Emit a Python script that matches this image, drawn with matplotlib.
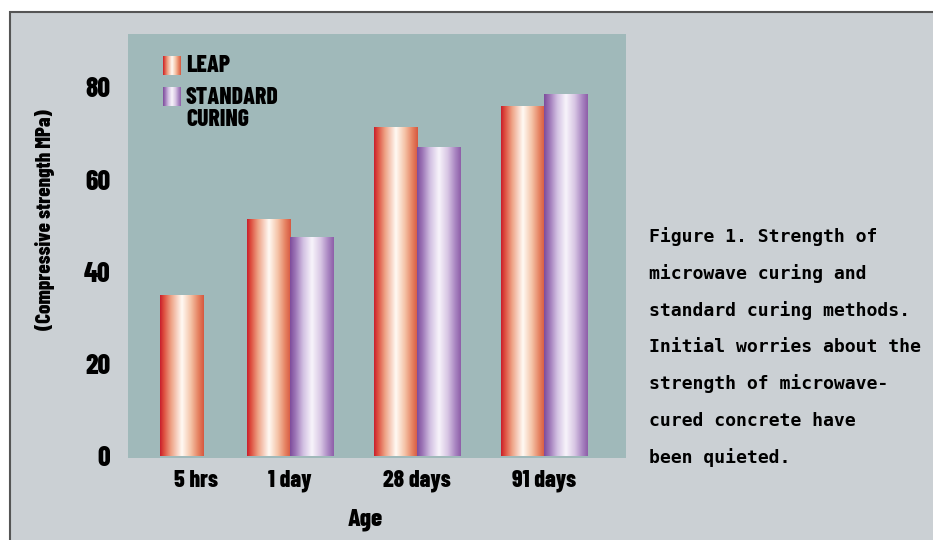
import numpy as np
import matplotlib.pyplot as plt
from matplotlib.colors import LinearSegmentedColormap
from matplotlib.patches import Rectangle

# values (MPa)
ages = ["5 hrs", "1 day", "28 days", "91 days"]
leap = [35, 51.5, 71.5, 76]
standard = [np.nan, 47.5, 67, 78.5]
yticks = [0, 20, 40, 60, 80]
series_names = ["LEAP", "STANDARD\nCURING"]
caption = [
    "Figure 1. Strength of",
    "microwave curing and",
    "standard curing methods.",
    "Initial worries about the",
    "strength of microwave-",
    "cured concrete have",
    "been quieted.",
]

NARROW = ["Barlow Condensed", "DejaVu Sans"]
MONO = ["DejaVu Sans Mono"]
BG = "#cbd0d4"
PANEL = "#a0b9ba"
HEAVY = 800

leap_cmap = LinearSegmentedColormap.from_list(
    "leap", [(0, "#c81e2c"), (0.08, "#dc4a3c"), (0.25, "#eea285"),
             (0.5, "#fffaf4"), (0.7, "#f5c4a8"), (0.88, "#e5805f"), (1, "#d65840")])
std_cmap = LinearSegmentedColormap.from_list(
    "std", [(0, "#7d4c9c"), (0.12, "#9c74b6"), (0.3, "#d2c0e2"),
            (0.5, "#f8f4fb"), (0.7, "#d8c6e4"), (0.88, "#a783c0"), (1, "#8e5ea8")])
grad = np.linspace(0, 1, 256).reshape(1, -1)


def gradient_bars(ax, bars, cmap):
    """Fill each bar patch with a horizontal gradient."""
    for p in bars.patches:
        h = p.get_height()
        if not np.isfinite(h):
            continue
        x0, y0 = p.get_xy()
        w = p.get_width()
        im = ax.imshow(grad, cmap=cmap, aspect="auto", zorder=2,
                       extent=[x0, x0 + w, y0, y0 + h], interpolation="bilinear")
        im.set_clip_path(p)


fig = plt.figure(figsize=(9.33, 5.4), dpi=100, facecolor="white")
# page frame behind everything
fig.patches.append(Rectangle((10 / 933, -0.1), 1.2, 1 - 12 / 540 + 0.1,
                             transform=fig.transFigure, facecolor=BG,
                             edgecolor="#555555", linewidth=1.5, zorder=-5))

ax = fig.add_axes([128.3 / 933, 82.5 / 540, 497.4 / 933, 423.2 / 540])
ax.set_facecolor(PANEL)

group_x = np.array([0.32, 1, 2, 3])
tick_x = np.array([0.26, 1, 2, 3])
bar_w = 0.34
b1 = ax.bar(group_x - bar_w / 2, leap, bar_w, facecolor="none", edgecolor="none")
b2 = ax.bar(group_x + bar_w / 2, standard, bar_w, facecolor="none", edgecolor="none")
gradient_bars(ax, b1, leap_cmap)
gradient_bars(ax, b2, std_cmap)

ax.set_xlim(-0.273, 3.643)
ax.set_ylim(-0.3, 91.5)
ax.set_yticks(yticks)
ax.set_xticks(tick_x)
ax.set_xticklabels(ages, fontfamily=NARROW, fontweight=HEAVY, fontsize=17)
ax.set_yticklabels([str(t) for t in yticks], fontfamily=NARROW, fontweight=HEAVY, fontsize=20)
ax.tick_params(axis="y", length=0, pad=13)
ax.tick_params(axis="x", length=0, pad=9)
for s in ax.spines.values():
    s.set_visible(False)

ax.set_xlabel("Age", fontfamily=NARROW, fontweight=HEAVY, fontsize=18)
ax.xaxis.set_label_coords(0.476, -0.147)
ax.xaxis.label.set_va("center")
ax.set_ylabel("(Compressive strength MPa)", fontfamily=NARROW, fontweight=HEAVY, fontsize=15)
ax.yaxis.set_label_coords(-0.168, 0.561)
ax.yaxis.label.set_va("center")

# legend with gradient swatches
for i, (name, cmap) in enumerate(zip(series_names, [leap_cmap, std_cmap])):
    top = 56 + i * 31.5
    sw = fig.add_axes([163 / 933, 1 - (top + 19) / 540, 18 / 933, 19 / 540])
    sw.imshow(grad, cmap=cmap, aspect="auto", interpolation="bilinear")
    sw.axis("off")
    fig.text(186 / 933, 1 - (top - 1) / 540, name, va="top", ha="left",
             fontfamily=NARROW, fontweight=HEAVY, fontsize=17, linespacing=1.0)

for i, line in enumerate(caption):
    fig.text(649 / 933, 1 - (237 + i * 36.7) / 540, line, va="center", ha="left",
             fontfamily=MONO, fontweight="bold", fontsize=13.1)

fig.savefig("out.png", dpi=100, facecolor=fig.get_facecolor())
